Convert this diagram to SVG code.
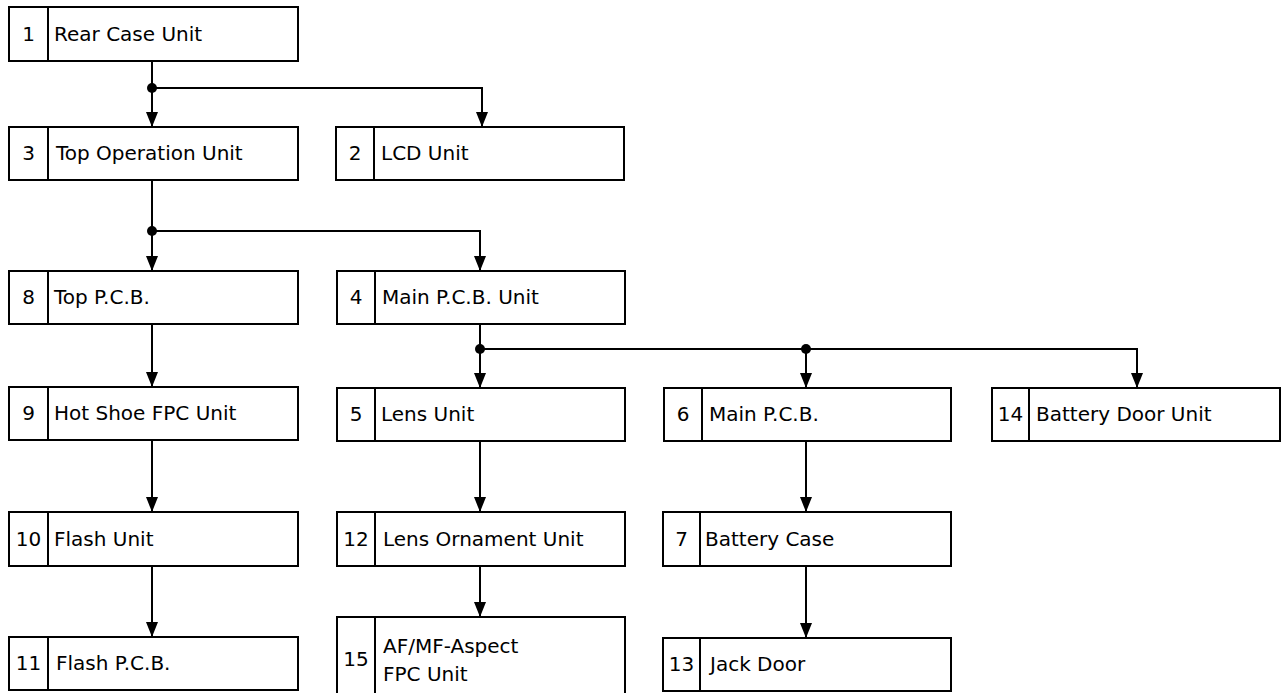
<svg xmlns="http://www.w3.org/2000/svg" width="1284" height="693" viewBox="0 0 1284 693">
<style>
.box{fill:#fff;stroke:#000;stroke-width:2}
.dv{stroke:#000;stroke-width:2}
.num{font-family:"DejaVu Sans","Liberation Sans",sans-serif;font-size:20px;text-anchor:middle;fill:#000}
.lbl{font-family:"DejaVu Sans","Liberation Sans",sans-serif;font-size:20px;fill:#000}
.conn{stroke:#000;stroke-width:2;fill:none}
.dot{fill:#000}
</style>
<defs>
<marker id="arr" markerUnits="userSpaceOnUse" markerWidth="15" markerHeight="12" viewBox="0 0 15 12" refX="15" refY="6" orient="auto">
<path d="M0,0 L15,6 L0,12 z" fill="#000"/>
</marker>
</defs>
<rect width="1284" height="693" fill="#fff"/>
<g id="connectors">
<path class="conn" d="M152,61 V127" marker-end="url(#arr)"/>
<path class="conn" d="M152,88 H482 V127" marker-end="url(#arr)"/>
<circle class="dot" cx="152" cy="88" r="5"/>
<path class="conn" d="M152,180 V271" marker-end="url(#arr)"/>
<path class="conn" d="M152,231 H480 V271" marker-end="url(#arr)"/>
<circle class="dot" cx="152" cy="231" r="5"/>
<path class="conn" d="M152,324 V387" marker-end="url(#arr)"/>
<path class="conn" d="M152,440 V512" marker-end="url(#arr)"/>
<path class="conn" d="M152,566 V637" marker-end="url(#arr)"/>
<path class="conn" d="M480,324 V388" marker-end="url(#arr)"/>
<path class="conn" d="M480,349 H1137 V388" marker-end="url(#arr)"/>
<path class="conn" d="M806,349 V388" marker-end="url(#arr)"/>
<circle class="dot" cx="480" cy="349" r="5"/>
<circle class="dot" cx="806" cy="349" r="5"/>
<path class="conn" d="M480,441 V512" marker-end="url(#arr)"/>
<path class="conn" d="M480,566 V617" marker-end="url(#arr)"/>
<path class="conn" d="M806,441 V512" marker-end="url(#arr)"/>
<path class="conn" d="M806,566 V638" marker-end="url(#arr)"/>
</g>
<g id="n1"><rect class="box" x="9" y="7" width="289" height="54"/><line class="dv" x1="48" y1="7" x2="48" y2="61"/><text class="num" x="28.5" y="41">1</text><text class="lbl" x="54" y="41">Rear Case Unit</text></g>
<g id="n3"><rect class="box" x="9" y="127" width="289" height="53"/><line class="dv" x1="48" y1="127" x2="48" y2="180"/><text class="num" x="28.5" y="160">3</text><text class="lbl" x="56" y="160">Top Operation Unit</text></g>
<g id="n2"><rect class="box" x="336" y="127" width="288" height="53"/><line class="dv" x1="374" y1="127" x2="374" y2="180"/><text class="num" x="355" y="160">2</text><text class="lbl" x="381" y="160">LCD Unit</text></g>
<g id="n8"><rect class="box" x="9" y="271" width="289" height="53"/><line class="dv" x1="48" y1="271" x2="48" y2="324"/><text class="num" x="28.5" y="304">8</text><text class="lbl" x="54" y="304">Top P.C.B.</text></g>
<g id="n4"><rect class="box" x="337" y="271" width="288" height="53"/><line class="dv" x1="375" y1="271" x2="375" y2="324"/><text class="num" x="356" y="304">4</text><text class="lbl" x="382" y="304">Main P.C.B. Unit</text></g>
<g id="n9"><rect class="box" x="9" y="387" width="289" height="53"/><line class="dv" x1="48" y1="387" x2="48" y2="440"/><text class="num" x="28.5" y="420">9</text><text class="lbl" x="54" y="420">Hot Shoe FPC Unit</text></g>
<g id="n5"><rect class="box" x="337" y="388" width="288" height="53"/><line class="dv" x1="375" y1="388" x2="375" y2="441"/><text class="num" x="356" y="421">5</text><text class="lbl" x="381" y="421">Lens Unit</text></g>
<g id="n6"><rect class="box" x="664" y="388" width="287" height="53"/><line class="dv" x1="702" y1="388" x2="702" y2="441"/><text class="num" x="683" y="421">6</text><text class="lbl" x="709" y="421">Main P.C.B.</text></g>
<g id="n14"><rect class="box" x="992" y="388" width="288" height="53"/><line class="dv" x1="1029" y1="388" x2="1029" y2="441"/><text class="num" x="1010.5" y="421">14</text><text class="lbl" x="1036" y="421">Battery Door Unit</text></g>
<g id="n10"><rect class="box" x="9" y="512" width="289" height="54"/><line class="dv" x1="48" y1="512" x2="48" y2="566"/><text class="num" x="28.5" y="546">10</text><text class="lbl" x="54" y="546">Flash Unit</text></g>
<g id="n12"><rect class="box" x="337" y="512" width="288" height="54"/><line class="dv" x1="375" y1="512" x2="375" y2="566"/><text class="num" x="356" y="546">12</text><text class="lbl" x="383" y="546">Lens Ornament Unit</text></g>
<g id="n7"><rect class="box" x="663" y="512" width="288" height="54"/><line class="dv" x1="700" y1="512" x2="700" y2="566"/><text class="num" x="681.5" y="546">7</text><text class="lbl" x="705" y="546">Battery Case</text></g>
<g id="n11"><rect class="box" x="9" y="637" width="289" height="53"/><line class="dv" x1="48" y1="637" x2="48" y2="690"/><text class="num" x="28.5" y="670">11</text><text class="lbl" x="56" y="670">Flash P.C.B.</text></g>
<g id="n15"><rect class="box" x="337" y="617" width="288" height="90"/><line class="dv" x1="375" y1="617" x2="375" y2="707"/><text class="num" x="356" y="666">15</text><text class="lbl" x="383" y="653">AF/MF-Aspect</text><text class="lbl" x="383" y="681">FPC Unit</text></g>
<g id="n13"><rect class="box" x="663" y="638" width="288" height="53"/><line class="dv" x1="700" y1="638" x2="700" y2="691"/><text class="num" x="681.5" y="671">13</text><text class="lbl" x="710" y="671">Jack Door</text></g>
</svg>
